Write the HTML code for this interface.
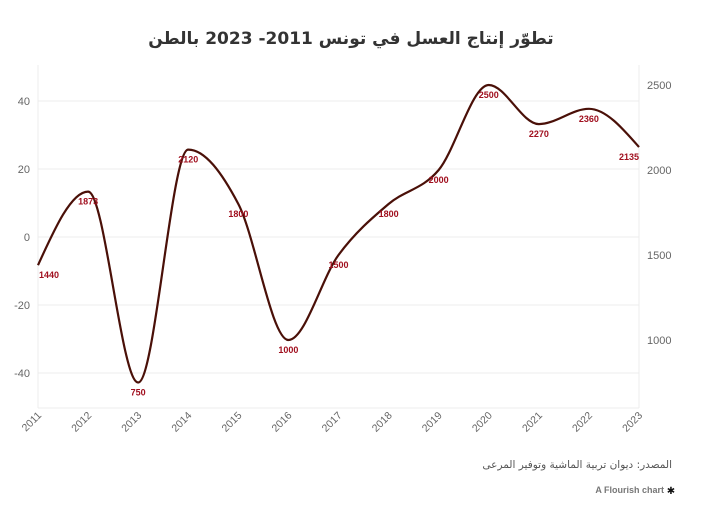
<!DOCTYPE html>
<html><head><meta charset="utf-8"><style>
body{margin:0;background:#fff;width:702px;height:514px;overflow:hidden;font-family:"Liberation Sans","DejaVu Sans",sans-serif}
</style></head><body>
<svg width="702" height="514" xmlns="http://www.w3.org/2000/svg" id="s">
<text x="351" y="44" text-anchor="middle" font-family="'DejaVu Sans','Noto Sans CJK SC',sans-serif" font-weight="bold" font-size="17" fill="#333" direction="rtl">تطوّر إنتاج العسل في تونس 2011- 2023 بالطن</text>
<g stroke="#ececec" stroke-width="1">
<line x1="38" x2="639" y1="101" y2="101"/><line x1="38" x2="639" y1="169" y2="169"/><line x1="38" x2="639" y1="237" y2="237"/><line x1="38" x2="639" y1="305" y2="305"/><line x1="38" x2="639" y1="373" y2="373"/>
<line x1="38" x2="38" y1="65" y2="408"/><line x1="639" x2="639" y1="65" y2="408"/><line x1="38" x2="639" y1="408" y2="408"/>
</g>
<g font-size="11" fill="#666" text-anchor="end">
<text x="30" y="105">40</text><text x="30" y="173">20</text><text x="30" y="241">0</text><text x="30" y="309">-20</text><text x="30" y="377">-40</text>
</g>
<g font-size="11" fill="#666">
<text x="647" y="89">2500</text><text x="647" y="174">2000</text><text x="647" y="259">1500</text><text x="647" y="344">1000</text>
</g>
<g id="xt" font-size="10.5" fill="#666"></g>
<path id="ln" fill="none" stroke="#4a1008" stroke-width="2.2"/>
<g id="lb" font-size="9" font-weight="bold" fill="#a00f1e" text-anchor="middle"></g>
<text x="672" y="468" text-anchor="start" font-family="'DejaVu Sans',sans-serif" font-size="10.5" fill="#555" direction="rtl">المصدر: ديوان تربية الماشية وتوفير المرعى</text>
<text x="664" y="493" text-anchor="end" font-size="9" font-weight="bold" fill="#777">A Flourish chart</text>
<text x="671" y="494" text-anchor="middle" font-size="10" fill="#111">✱</text>
</svg>
<script>
var v=[1440,1873,750,2120,1800,1000,1500,1800,2000,2500,2270,2360,2135];
var P=v.map(function(a,i){return [38+i*601/12,85+(2500-a)*0.17]});
var n=P.length,h=601/12,s=[],t=[];
for(var i=0;i<n-1;i++)s.push((P[i+1][1]-P[i][1])/h);
for(var i=1;i<n-1;i++){var a=s[i-1],b=s[i];t[i]=(a*b<=0)?0:(a+b)/2;}
t[0]=(3*s[0]-t[1])/2;t[n-1]=(3*s[n-2]-t[n-2])/2;
var d="M"+P[0][0]+","+P[0][1];
for(var i=0;i<n-1;i++){var dx=h/3;
d+=" C"+(P[i][0]+dx)+","+(P[i][1]+dx*t[i])+" "+(P[i+1][0]-dx)+","+(P[i+1][1]-dx*t[i+1])+" "+P[i+1][0]+","+P[i+1][1];}
document.getElementById("ln").setAttribute("d",d);
var lb=document.getElementById("lb"),xt=document.getElementById("xt"),ns="http://www.w3.org/2000/svg";
P.forEach(function(p,i){var e=document.createElementNS(ns,"text");var x=p[0];if(i==0)x+=11;if(i==12)x-=10;
e.setAttribute("x",x);e.setAttribute("y",p[1]+13);e.textContent=v[i];lb.appendChild(e);
var u=document.createElementNS(ns,"text");u.setAttribute("transform","translate("+(p[0]+4)+",416) rotate(-45)");u.setAttribute("text-anchor","end");u.textContent=2011+i;xt.appendChild(u);});
</script>
</body></html>
